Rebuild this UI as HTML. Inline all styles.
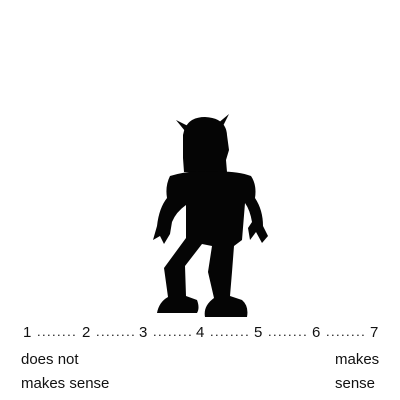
<!DOCTYPE html>
<html><head><meta charset="utf-8"><style>
html,body{margin:0;padding:0;background:#fff;}
#wrap{position:relative;width:400px;height:400px;overflow:hidden;font-family:"Liberation Sans",sans-serif;color:#111;}
.t{position:absolute;font-size:15px;line-height:1;white-space:nowrap;}
.d{font-size:13px;letter-spacing:1.4px;}
</style></head><body>
<div id="wrap">
<svg width="400" height="400" style="position:absolute;left:0;top:0">
<g fill="#050505">
<polygon points="176,120 188,126 185,131"/>
<polygon points="229,114 222,128 217,124"/>
<path d="M183,135 Q186,117 205,117 Q226,118 227,135 L229,150 L226,160 L227,172 L184,172 L183,158 Z"/>
<path d="M170,176 Q190,170 205,172 Q235,170 251,176 Q257,185 255,198 Q263,210 263,226 L268,236 L262,243 L256,232 L250,240 L248,228 L252,222 Q250,210 245,203 L242,240 L234,246 L232,272 L230,296 L242,300 Q249,306 247,317 L205,317 Q203,306 214,298 L208,272 L212,246 L202,244 L185,266 L186,296 L197,300 Q200,308 197,313 L157,313 Q159,302 168,297 L164,268 L186,238 L186,205 Q176,212 172,222 L170,234 L164,244 L160,236 L153,240 L157,226 Q159,208 167,198 Q165,186 170,176 Z"/>
</g>
</svg>
<div class="t" style="left:23px;top:325px">1</div>
<div class="t" style="left:82px;top:325px">2</div>
<div class="t" style="left:139px;top:325px">3</div>
<div class="t" style="left:196px;top:325px">4</div>
<div class="t" style="left:254px;top:325px">5</div>
<div class="t" style="left:312px;top:325px">6</div>
<div class="t" style="left:370px;top:325px">7</div>
<div class="t d" style="left:37px;top:325px">........</div>
<div class="t d" style="left:96px;top:325px">........</div>
<div class="t d" style="left:153px;top:325px">........</div>
<div class="t d" style="left:210px;top:325px">........</div>
<div class="t d" style="left:268px;top:325px">........</div>
<div class="t d" style="left:326px;top:325px">........</div>
<div class="t" style="left:21px;top:352px">does not</div>
<div class="t" style="left:21px;top:376px">makes sense</div>
<div class="t" style="left:335px;top:352px">makes</div>
<div class="t" style="left:335px;top:376px">sense</div>
</div>
</body></html>
